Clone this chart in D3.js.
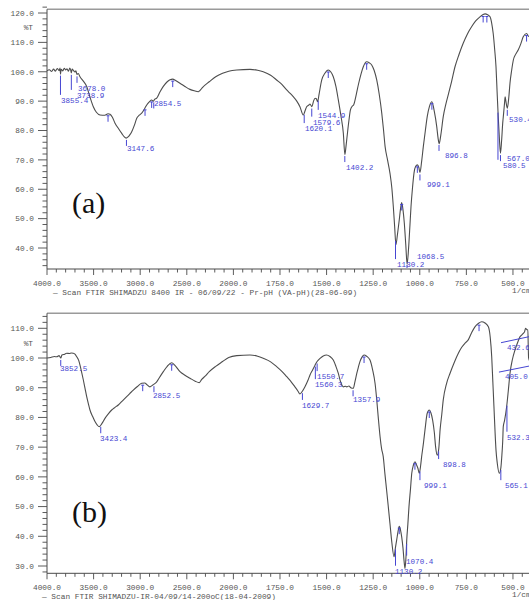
<!DOCTYPE html>
<html>
<head>
<meta charset="utf-8">
<script src="https://d3js.org/d3.v7.min.js"></script>
<style>
  body { margin: 0; background: #fff; }
  svg text { font-family: "Liberation Mono", "DejaVu Sans Mono", monospace; }
</style>
</head>
<body>
<div id="chart"></div>
<script>

// ---- spectrum (a) : wavenumber (1/cm) and %T
var wnA = [4000,3975,3950,3930,3910,3890,3870,3860,3855,3848,3830,3815,3800,3785,3770,3755,3745,3739,3730,3715,3700,3690,3678,3665,3646,
  3610,3574,3540,3503,3470,3431,3380,3345,3324,3300,3270,3230,3198,3170,3152,3130,3110,3091,3060,3037,3010,2984,2950,2930,2900,2877,2860,2845,2823,
  2790,2752,2710,2680,2651,2620,2573,2520,2466,2420,2376,2360,2330,2259,2190,2116,2050,1982,1911,1870,1840,1800,1768,1740,1714,1695,1679,1660,1643,
  1625,1615,1607,1595,1589,1579,1570,1562,1555,1548,1540,1526,1509,1491,1478,1464,1450,1437,1423,1410,1402,1396,1392,1380,1372,1362,1355,1340,1328,
  1315,1303,1285,1270,1258,1245,1231,1218,1204,1195,1186,1173,1160,1150,1142,1135,1128,1120,1110,1103,1097,1090,1083,1075,1068,1060,1053,1047,1039,
  1031,1022,1013,1005,999,990,981,970,960,948,935,922,909,902,896,887,874,860,845,830,811,790,767,745,722,700,677,660,650,636,623,614,606,598,591,
  585,579,573,567,561,555,550,545,542,538,530,522,516,507,498,485,472,458,445,427,415,405,400];
var tA = [100.3,100.7,100.1,100.9,100.2,101.1,100.4,101.3,99.2,100.8,100.3,101.2,100.6,101.0,100.2,101.3,100.5,99.6,100.9,100.4,99.9,100.3,99.1,99.4,98.3,
  96.8,95.0,91.5,88.1,86.2,85.3,85.2,85.7,85.5,84.6,82.5,80.5,79.0,77.8,77.4,77.8,78.6,79.6,82.0,84.2,85.2,85.9,87.6,88.7,89.8,90.4,90.0,90.6,91.0,
  93.0,95.0,96.6,97.3,97.5,97.0,96.1,95.0,94.0,93.5,93.2,93.6,94.7,96.6,98.3,99.5,100.2,100.6,100.8,100.5,100.0,98.8,97.2,95.7,93.8,92.6,91.5,90.0,88.1,
  85.3,86.8,88.1,88.7,89.0,88.1,90.0,91.0,90.8,89.8,92.5,97.2,99.5,100.6,100.0,98.3,95.0,90.4,85.0,79.0,71.8,74.5,76.8,83.5,87.0,88.3,88.7,92.5,96.0,
  99.3,101.7,103.4,103.0,102.3,100.5,97.2,92.5,85.9,80.5,74.5,70.0,65.5,60.5,54.1,47.5,41.1,44.5,49.6,53.5,55.5,53.0,48.5,41.0,34.5,40.0,47.5,54.1,60.5,
  65.5,67.8,68.3,67.4,65.7,69.5,74.5,80.0,84.7,88.2,89.8,86.5,81.3,77.5,75.5,78.5,84.7,89.0,92.7,96.5,101.7,105.8,109.7,112.8,115.3,117.3,118.7,119.5,119.7,119.4,118.7,116.5,113.0,107.5,101.7,
  93.0,84.7,77.5,72.3,76.5,82.5,85.9,89.5,91.5,90.0,87.6,91.5,96.1,100.5,104.0,106.0,107.4,109.5,111.9,113.0,112.0,112.7,112.4];

// ---- spectrum (b)
var wnB = [4000,3960,3920,3896,3870,3852,3840,3810,3789,3760,3740,3718,3700,3681,3660,3646,3628,3610,3592,3574,3556,3539,3510,3485,3460,3439,3410,3378,
  3340,3306,3270,3235,3190,3145,3110,3074,3030,2984,2950,2930,2895,2870,2852,2823,2790,2752,2710,2662,2630,2573,2520,2466,2410,2366,2340,2300,2259,2190,
  2116,2050,1982,1911,1870,1840,1800,1768,1740,1714,1690,1670,1655,1643,1630,1616,1600,1589,1575,1562,1550,1535,1518,1500,1482,1464,1450,1437,1425,1410,
  1400,1392,1380,1370,1357,1348,1338,1330,1321,1310,1299,1285,1267,1253,1240,1231,1223,1213,1205,1196,1187,1178,1169,1160,1150,1138,1131,1124,1117,1110,
  1103,1097,1090,1084,1079,1074,1070,1064,1058,1050,1043,1034,1026,1017,1010,1003,996,990,981,972,960,949,940,931,922,915,906,898,891,882,874,856,838,
  815,793,775,757,740,722,704,686,668,650,632,622,614,608,602,596,591,584,573,565,560,555,552,545,534,525,516,503,489,475,462,452,445,438,432,425,420,
  418,416,410,400];
var tB = [100.0,100.2,100.5,100.4,100.8,100.0,101.0,101.3,101.6,101.5,101.7,101.6,101.3,100.4,99.2,97.6,95.2,92.6,89.8,87.0,84.6,82.5,80.3,78.6,77.4,76.9,78.0,79.7,
  81.3,82.5,83.4,84.2,85.6,87.0,88.1,89.2,90.4,91.5,91.6,91.1,90.3,90.8,91.2,92.0,93.6,95.4,97.2,98.4,97.6,95.4,94.2,93.2,92.2,91.7,92.8,94.0,95.4,97.2,
  98.8,100.2,100.8,101.0,100.6,99.9,98.7,97.1,95.5,93.7,92.0,90.3,89.0,87.9,88.8,90.3,92.5,94.3,96.0,97.6,98.9,99.9,100.7,101.0,100.5,99.3,97.2,94.8,92.0,90.3,
  90.5,90.3,90.6,90.0,89.8,92.0,94.8,96.8,98.8,100.3,101.0,100.6,99.3,96.0,91.5,86.0,80.2,73.5,69.5,66.8,61.0,55.6,50.0,44.3,38.0,33.1,36.0,38.7,41.5,43.4,
  42.0,39.8,36.0,31.5,29.2,33.0,38.7,44.0,49.9,55.8,61.2,64.0,65.1,64.0,62.9,61.2,63.5,66.8,71.0,75.8,81.4,82.5,81.5,79.1,75.0,70.1,67.3,69.5,75.8,81.0,85.9,91.5,94.8,
  98.5,101.6,103.6,105.0,106.1,108.5,110.5,111.6,112.2,111.8,110.5,107.0,100.4,92.0,83.6,75.0,69.0,64.5,61.2,63.0,66.8,72.0,76.9,79.0,83.6,89.0,94.8,99.5,102.7,105.2,107.2,107.8,108.3,108.8,110.0,109.5,109.5,
  104.0,100.0,99.0,99.5];

// peak labels: text, peak wavenumber, label wavenumber, label %T
var labelsA = [
  ["3678.0", 3678.0, 3667, 93.5], ["3738.9", 3738.9, 3678, 91.1], ["3855.4", 3855.4, 3850, 89.4],
  ["3147.6", 3147.6, 3142, 72.9], ["2854.5", 2854.5, 2852, 88.5], ["1620.1", 1620.1, 1616, 79.8],
  ["1579.6", 1579.6, 1573, 82.0], ["1544.9", 1544.9, 1546, 84.3], ["1402.2", 1402.2, 1396, 66.7],
  ["1130.2", 1130.2, 1122, 33.5], ["1068.5", 1068.5, 1015, 36.1], ["999.1", 999.1, 961, 60.7],
  ["896.8", 896.8, 865, 70.7], ["567.0", 567.0, 532, 69.6], ["580.5", 580.5, 554, 67.3], ["530.4", 530.4, 521, 82.9]
];
var labelsB = [
  ["3852.5", 3852.5, 3861, 95.5], ["3423.4", 3423.4, 3431, 72.0], ["2852.5", 2852.5, 2863, 86.5],
  ["1629.7", 1629.7, 1632, 83.2], ["1550.7", 1550.7, 1551, 92.9], ["1560.3", 1560.3, 1562, 90.2],
  ["1357.9", 1357.9, 1358, 85.1], ["898.8", 898.8, 875, 63.3], ["999.1", 999.1, 977, 56.2],
  ["565.1", 565.1, 543, 56.2], ["532.3", 532.3, 532, 72.5], ["1070.4", 1070.4, 1074, 30.8], ["1130.2", 1130.2, 1133, 27.4]
];
// labels with a leader line to peaks off the right edge
var leadersB = [["432.6", 532, 102.8], ["405.0", 543, 92.9]];

// unlabelled maxima markers
var maxA = [3345, 2948, 2877, 2651, 1491, 1285, 1097, 1013, 935, 660, 640, 427];
var maxB = [2973, 2662, 1299, 1110, 1026, 949, 682];

var xMajor = [4000, 3500, 3000, 2500, 2000, 1750, 1500, 1250, 1000, 750, 500];
var footA = "\u2014 Scan FTIR SHIMADZU 8400  IR - 06/09/22 - Pr-pH (VA-pH)(28-06-09)";
var footB = "\u2014 Scan FTIR SHIMADZU-IR-04/09/14-200oC(18-04-2009)";

var W = 529, H = 600;
var blue = "#4646d2", grey = "#4a4a4a";

var svg = d3.select("#chart").append("svg")
  .attr("width", W).attr("height", H);

// FTIR x axis: 4000-2000 compressed, 2000-400 expanded
var x = d3.scaleLinear().domain([4000, 2000, 400]).range([47, 233.4, 531.6]);

var fmt = d3.format(".1f");

function interp(wn, t, w) {
  for (var i = 1; i < wn.length; i++) {
    if (wn[i] <= w) {
      var f = (wn[i - 1] - w) / (wn[i - 1] - wn[i]);
      return t[i - 1] + f * (t[i] - t[i - 1]);
    }
  }
  return t[t.length - 1];
}

function panel(o) {
  var g = svg.append("g");
  var y = d3.scaleLinear().domain(o.yDom).range(o.yRange);
  var top = o.top, bot = o.bottom, left = x(4000);

  // top frame line
  g.append("line").attr("x1", left).attr("x2", W).attr("y1", top).attr("y2", top)
    .attr("stroke", "#9a9a9a").attr("stroke-width", 1.6);
  // left + bottom axis lines
  g.append("line").attr("x1", left).attr("x2", left).attr("y1", top).attr("y2", bot)
    .attr("stroke", grey).attr("stroke-width", 1);
  g.append("line").attr("x1", left).attr("x2", W).attr("y1", bot).attr("y2", bot)
    .attr("stroke", grey).attr("stroke-width", 1);

  // y ticks
  var ym = d3.range(o.minorFrom, o.minorTo + 0.1, 2);
  g.selectAll(".ymin").data(ym).enter().append("line")
    .attr("x1", function(d) { return d % 10 === 0 ? left - 9 : left - 4.5; })
    .attr("x2", left)
    .attr("y1", function(d) { return y(d); }).attr("y2", function(d) { return y(d); })
    .attr("stroke", grey).attr("stroke-width", 0.9);
  g.selectAll(".ylab").data(o.yLabels).enter().append("text")
    .attr("x", 34).attr("y", function(d) { return y(d) + 2.8; })
    .attr("text-anchor", "end").attr("font-size", 7.8).attr("fill", "#555")
    .text(fmt);
  g.append("text").attr("x", 33).attr("y", y(o.pctAt) + 2.8)
    .attr("text-anchor", "end").attr("font-size", 7.8).attr("fill", "#555").text("%T");

  // x ticks
  var xm = d3.range(4000, 2000, -100).concat(d3.range(2000, 399, -50));
  g.selectAll(".xmin").data(xm).enter().append("line")
    .attr("x1", function(d) { return x(d); }).attr("x2", function(d) { return x(d); })
    .attr("y1", bot)
    .attr("y2", function(d) { return xMajor.indexOf(d) >= 0 ? bot + 6 : bot + 3.5; })
    .attr("stroke", grey).attr("stroke-width", 0.9);
  g.selectAll(".xlab").data(xMajor).enter().append("text")
    .attr("x", function(d) { return x(d); }).attr("y", bot + 17)
    .attr("text-anchor", "middle").attr("font-size", 7.8).attr("fill", "#555")
    .text(fmt);
  g.append("text").attr("x", 512).attr("y", bot + 24).attr("font-size", 7.8)
    .attr("fill", "#555").text("1/cm");
  g.append("text").attr("x", o.footX).attr("y", bot + 25.5).attr("font-size", 7.8)
    .attr("fill", "#555").text(o.foot);

  // spectrum
  var pts = o.wn.map(function(w, i) { return [w, o.t[i]]; });
  var line = d3.line()
    .x(function(d) { return x(d[0]); })
    .y(function(d) { return y(d[1]); })
    .curve(d3.curveMonotoneX);
  g.append("path").datum(pts).attr("d", line)
    .attr("fill", "none").attr("stroke", "#4d4d4d").attr("stroke-width", 1.1);

  // minima markers and labels
  g.selectAll(".pk").data(o.labels).enter().append("line")
    .attr("x1", function(d) { return x(d[1]); }).attr("x2", function(d) { return x(d[1]); })
    .attr("y1", function(d) { return y(interp(o.wn, o.t, d[1])) + 2; })
    .attr("y2", function(d) {
      var y1 = y(interp(o.wn, o.t, d[1])) + 2;
      return Math.min(bot - 1, Math.max(y1 + 6, y(d[3]) - 8));
    })
    .attr("stroke", blue).attr("stroke-width", 1);
  g.selectAll(".pl").data(o.labels).enter().append("text")
    .attr("x", function(d) { return x(d[2]); }).attr("y", function(d) { return y(d[3]); })
    .attr("font-size", 7.6).attr("fill", blue).text(function(d) { return d[0]; });

  // maxima markers
  g.selectAll(".mx").data(o.maxima).enter().append("path")
    .attr("d", function(w) {
      var px = x(w), py = y(interp(o.wn, o.t, w)) + 2;
      return "M" + (px - 1.5) + "," + py + "H" + (px + 1.5) + "M" + px + "," + py + "V" + (py + 6);
    })
    .attr("fill", "none").attr("stroke", blue).attr("stroke-width", 1);

  // leader labels
  g.selectAll(".ld").data(o.leaders).enter().append("text")
    .attr("x", function(d) { return x(d[1]); }).attr("y", function(d) { return y(d[2]); })
    .attr("font-size", 7.6).attr("fill", blue).text(function(d) { return d[0]; });
  g.selectAll(".ll").data(o.leaders).enter().append("line")
    .attr("x1", function(d) { return x(d[1]) - 6; }).attr("x2", W)
    .attr("y1", function(d) { return y(d[2]) - 7; }).attr("y2", function(d) { return y(d[2]) - 13; })
    .attr("stroke", blue).attr("stroke-width", 1);

  // panel letter
  svg.append("text").attr("x", 72).attr("y", o.letterY)
    .style("font-family", "'Liberation Serif', serif").attr("font-size", 30)
    .attr("fill", "#111").text(o.letter);
}

panel({
  wn: wnA, t: tA, labels: labelsA, maxima: maxA, leaders: [],
  yDom: [40, 120], yRange: [248, 13], top: 9.3, bottom: 269,
  minorFrom: 34, minorTo: 122, yLabels: [40, 50, 60, 70, 80, 90, 100, 110, 120], pctAt: 115,
  foot: footA, footX: 53, letter: "(a)", letterY: 213
});

panel({
  wn: wnB, t: tB, labels: labelsB, maxima: maxB, leaders: leadersB,
  yDom: [30, 110], yRange: [566, 328.3], top: 313.3, bottom: 573.3,
  minorFrom: 28, minorTo: 114, yLabels: [30, 40, 50, 60, 70, 80, 90, 100, 110], pctAt: 105,
  foot: footB, footX: 42, letter: "(b)", letterY: 522
});

</script>
</body>
</html>
